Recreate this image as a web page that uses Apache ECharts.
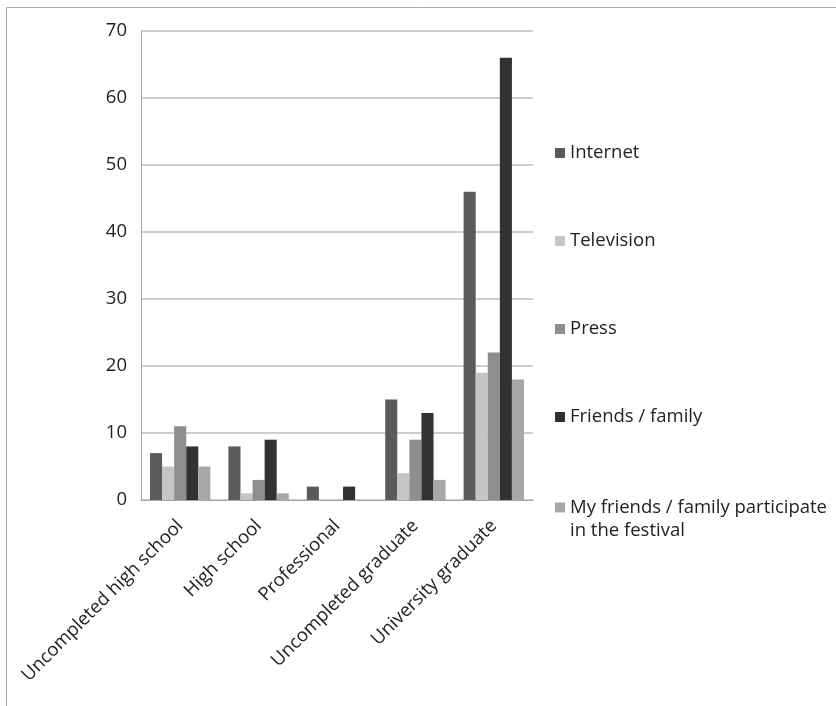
<!DOCTYPE html>
<html>
<head>
<meta charset="utf-8">
<script src="https://cdn.jsdelivr.net/npm/echarts@6/dist/echarts.min.js"></script>
<style>html,body{margin:0;padding:0;background:#fff}#c{width:836px;height:706px}</style>
</head>
<body>
<div id="c"></div>
<script>
var categories = ['Uncompleted high school', 'High school', 'Professional', 'Uncompleted graduate', 'University graduate'];
var seriesNames = ['Internet', 'Television', 'Press', 'Friends / family', 'My friends / family participate in the festival'];
var internet = [7, 8, 2, 15, 46];
var television = [5, 1, 0, 4, 19];
var press = [11, 3, 0, 9, 22];
var friendsFamily = [8, 9, 2, 13, 66];
var participate = [5, 1, 0, 3, 18];
var yTicks = [0, 10, 20, 30, 40, 50, 60, 70];

var colors = ['#5b5b5e', '#c5c5c7', '#8e8e91', '#323232', '#a8a8ab'];
var values = [internet, television, press, friendsFamily, participate];
var FONT = 'Open Sans';
var FS = 18.5;

var chart = echarts.init(document.getElementById('c'));
var series = seriesNames.map(function (n, i) {
  return {
    name: n, type: 'bar', data: values[i],
    barGap: '0%', barCategoryGap: '23%',
    itemStyle: { color: colors[i] }
  };
});
var legendText = { fontFamily: FONT, fontSize: FS, color: '#222', lineHeight: 23 };
chart.setOption({
  animation: false,
  backgroundColor: '#fff',
  textStyle: { fontFamily: FONT },
  grid: { left: 141, right: 303, top: 31, bottom: 206, containLabel: false },
  legend: [{
    orient: 'vertical', left: 555, top: 141.5, padding: 0,
    itemWidth: 10, itemHeight: 10, itemGap: 65,
    icon: 'rect',
    textStyle: legendText,
    data: seriesNames.slice(0, 4)
  }, {
    orient: 'vertical', left: 555, top: 473, padding: 0,
    itemWidth: 10, itemHeight: 10,
    icon: 'rect',
    textStyle: legendText,
    formatter: function () { return ' \nMy friends / family participate\nin the festival'; },
    data: seriesNames.slice(4)
  }],
  xAxis: {
    type: 'category', data: categories,
    axisLine: { lineStyle: { color: '#a6a6a6', width: 1 } },
    axisTick: { show: false },
    axisLabel: { rotate: 45, interval: 0, margin: 23, fontFamily: FONT, fontSize: FS, color: '#222' }
  },
  yAxis: {
    type: 'value', min: yTicks[0], max: yTicks[yTicks.length - 1], interval: 10,
    axisLine: { show: true, lineStyle: { color: '#a6a6a6', width: 1 } },
    axisTick: { show: false },
    splitLine: { lineStyle: { color: '#bdbdbd', width: 1.5 } },
    axisLabel: { margin: 14, fontFamily: FONT, fontSize: FS, color: '#222' }
  },
  graphic: [
    { type: 'line', shape: { x1: 6.5, y1: 7.5, x2: 836, y2: 7.5 }, style: { stroke: '#a6a6a6', lineWidth: 1 } },
    { type: 'line', shape: { x1: 6.5, y1: 7.5, x2: 6.5, y2: 706 }, style: { stroke: '#a6a6a6', lineWidth: 1 } }
  ],
  series: series
});
</script>
</body>
</html>
